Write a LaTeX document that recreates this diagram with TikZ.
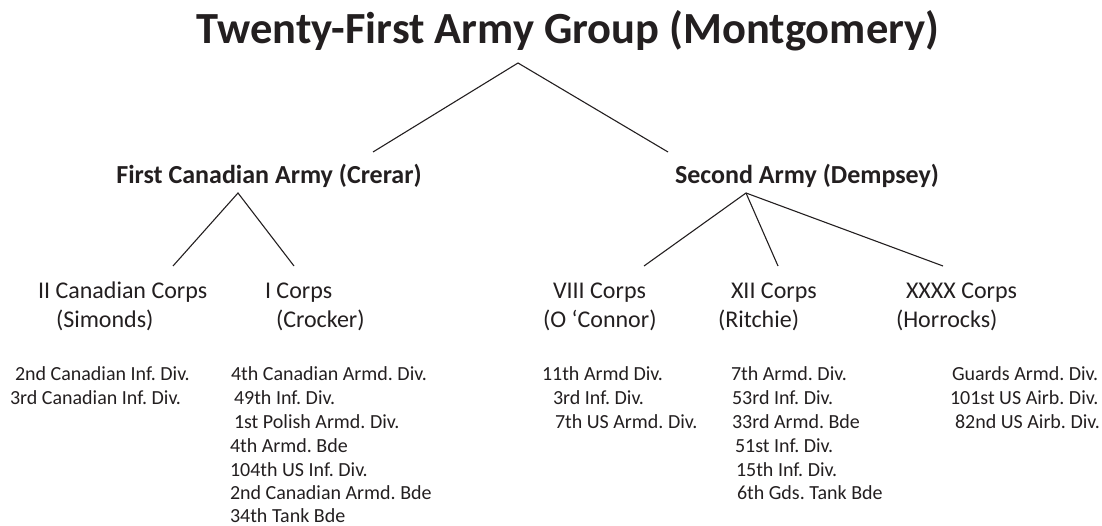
\documentclass[tikz,border=0pt]{standalone}
\usepackage{fontspec}
\setmainfont{Carlito}
\frenchspacing
\definecolor{ink}{RGB}{35,31,32}
\tikzset{
  lbl/.style={inner sep=0pt, outer sep=0pt, text=ink, anchor=base west},
  titlelbl/.style={lbl, anchor=base, font=\fontsize{44.5}{52}\selectfont\bfseries},
  armylbl/.style={lbl, anchor=base, font=\fontsize{26}{31}\selectfont\bfseries},
  corpslbl/.style={lbl, font=\fontsize{24}{29}\selectfont},
  divlbl/.style={lbl, font=\fontsize{20}{24}\selectfont},
  link/.style={draw=ink, line width=1.1pt}
}
\begin{document}
\begin{tikzpicture}[x=1pt,y=-1pt]
\useasboundingbox (0,0) rectangle (1102,526);
% headings
\node[titlelbl] (ag) at (568,44) {Twenty-First Army Group (Montgomery)};
\node[armylbl] (fca) at (269,184) {First Canadian Army (Crerar)};
\node[armylbl] (sa) at (807,184) {Second Army (Dempsey)};
% corps
\node[corpslbl] (c1a) at (38,299) {II Canadian Corps};
\node[corpslbl] (c1b) at (56,327) {(Simonds)};
\node[corpslbl] (c2a) at (265,299) {I Corps};
\node[corpslbl] (c2b) at (276,327) {(Crocker)};
\node[corpslbl] (c3a) at (553,299) {VIII Corps};
\node[corpslbl] (c3b) at (543,327) {(O ‘Connor)};
\node[corpslbl] (c4a) at (731,299) {XII Corps};
\node[corpslbl] (c4b) at (718,327) {(Ritchie)};
\node[corpslbl] (c5a) at (906,299) {XXXX Corps};
\node[corpslbl] (c5b) at (896,327) {(Horrocks)};
% divisions
\node[divlbl] (d11) at (15,380) {2nd Canadian Inf. Div.};
\node[divlbl] (d12) at (10,404) {3rd Canadian Inf. Div.};
\node[divlbl] (d21) at (231,380) {4th Canadian Armd. Div.};
\node[divlbl] (d22) at (234,404) {49th Inf. Div.};
\node[divlbl] (d23) at (234,428) {1st Polish Armd. Div.};
\node[divlbl] (d24) at (230,452) {4th Armd. Bde};
\node[divlbl] (d25) at (230,476) {104th US Inf. Div.};
\node[divlbl] (d26) at (230,499.5) {2nd Canadian Armd. Bde};
\node[divlbl] (d27) at (230,522.5) {34th Tank Bde};
\node[divlbl] (d31) at (542,380) {11th Armd Div.};
\node[divlbl] (d32) at (553,404) {3rd Inf. Div.};
\node[divlbl] (d33) at (555,428) {7th US Armd. Div.};
\node[divlbl] (d41) at (731,380) {7th Armd. Div.};
\node[divlbl] (d42) at (732,404) {53rd Inf. Div.};
\node[divlbl] (d43) at (732,428) {33rd Armd. Bde};
\node[divlbl] (d44) at (735,452) {51st Inf. Div.};
\node[divlbl] (d45) at (736,476) {15th Inf. Div.};
\node[divlbl] (d46) at (737,499.5) {6th Gds. Tank Bde};
\node[divlbl] (d51) at (952,380) {Guards Armd. Div.};
\node[divlbl] (d52) at (950,404) {101st US Airb. Div.};
\node[divlbl] (d53) at (955,428) {82nd US Airb. Div.};
% connector points
\coordinate (agx) at (518,63);
\coordinate (fcaup) at (373,152);
\coordinate (saup) at (668,152);
\coordinate (fcax) at (238,193);
\coordinate (c1up) at (173,266);
\coordinate (c2up) at (294,266);
\coordinate (sax) at (746,193);
\coordinate (c3up) at (644,266);
\coordinate (c4up) at (778,266);
\coordinate (c5up) at (943,266);
% connectors
\draw[link] (fcaup) -- (agx) -- (saup);
\draw[link] (c1up) -- (fcax) -- (c2up);
\draw[link] (c3up) -- (sax) -- (c5up);
\draw[link] (sax) -- (c4up);
\end{tikzpicture}
\end{document}
